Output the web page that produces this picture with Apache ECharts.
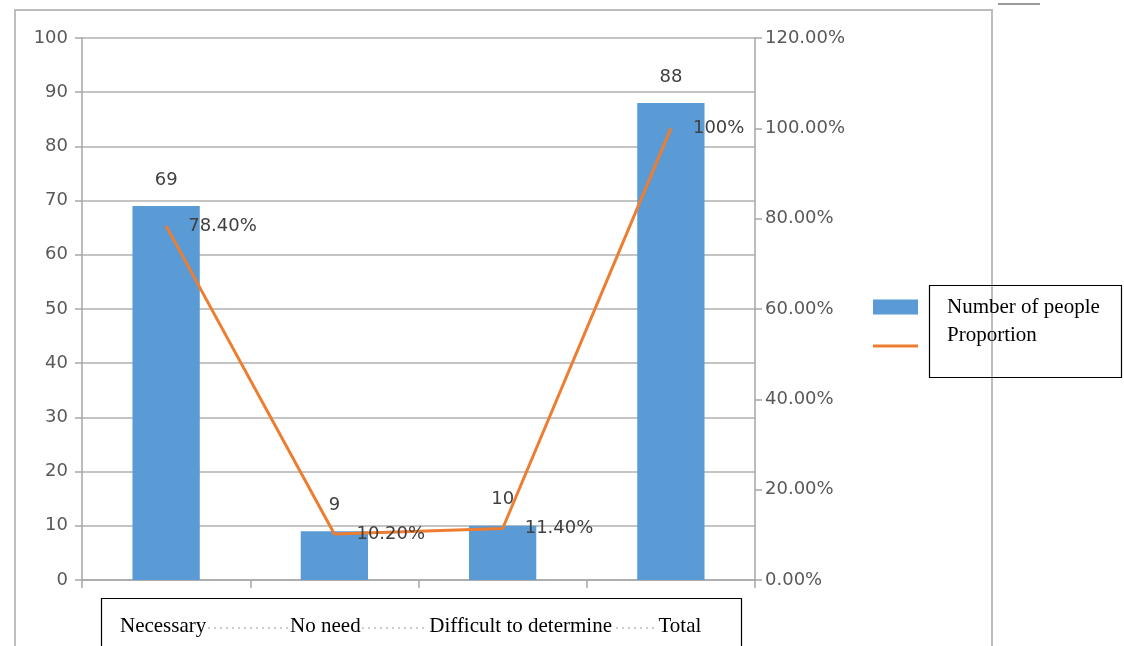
<!DOCTYPE html>
<html>
<head>
<meta charset="utf-8">
<style>
  html, body { margin: 0; padding: 0; background: #ffffff; }
  #chart { width: 1124px; height: 646px; }
</style>
<script src="https://cdn.jsdelivr.net/npm/echarts@6/dist/echarts.min.js"></script>
</head>
<body>
<div id="chart"></div>
<script>
// Survey results: head count per answer and its share of the total
const categories = ['Necessary', 'No need', 'Difficult to determine', 'Total'];
const peopleCounts = [69, 9, 10, 88];
const proportions = [78.4, 10.2, 11.4, 100];
const countTicks = { min: 0, max: 100, interval: 10 };
const shareTicks = { min: 0, max: 120, interval: 20 };

const BLUE = '#5B9BD5';
const ORANGE = '#ED7D31';
const AXIS_GREY = '#a6a6a6';
const SANS = 'DejaVu Sans';
const SERIF = 'Liberation Serif';

const chart = echarts.init(document.getElementById('chart'), null, { renderer: 'canvas' });

function shareLabel(v) {
  return v === 100 ? '100%' : v.toFixed(2) + '%';
}

const dotted = { stroke: '#9a9a9a', lineWidth: 1, lineDash: [2, 4] };

// caption words are nudged sideways inside the caption frame
const captionFont = { fontFamily: SERIF, fontSize: 21, color: '#000000' };
const captionRich = {
  c0: Object.assign({ padding: [0, 6, 0, 0] }, captionFont),
  c1: Object.assign({ padding: [0, 18, 0, 0] }, captionFont),
  c2: Object.assign({ padding: [0, 0, 0, 36] }, captionFont),
  c3: Object.assign({ padding: [0, 0, 0, 18] }, captionFont)
};

chart.setOption({
  backgroundColor: '#ffffff',
  animation: false,
  grid: { left: 82, right: 369, top: 38, bottom: 66, containLabel: false },
  legend: {
    orient: 'vertical',
    left: 873,
    top: 296,
    padding: 0,
    itemWidth: 45,
    itemHeight: 15,
    itemGap: 6,
    textStyle: { fontFamily: SERIF, fontSize: 21, lineHeight: 22, color: '#000000', padding: [0, 0, 0, 24] },
    // the second entry's text sits one line higher than its swatch
    formatter: name => (name === 'Proportion' ? name + '\n ' : name),
    data: [
      { name: 'Number of people', icon: 'rect' },
      { name: 'Proportion', icon: 'path://M0,0H45V3H0Z' }
    ]
  },
  xAxis: {
    type: 'category',
    data: categories,
    axisLine: { lineStyle: { color: AXIS_GREY, width: 1.5 } },
    axisTick: { show: true, length: 8, lineStyle: { color: AXIS_GREY, width: 1.5 } },
    axisLabel: {
      interval: 0,
      hideOverlap: false,
      margin: 36,
      fontFamily: SERIF,
      fontSize: 21,
      color: '#000000',
      formatter: (value, idx) => '{c' + idx + '|' + value + '}',
      rich: captionRich
    },
    splitLine: { show: false }
  },
  yAxis: [
    {
      type: 'value',
      min: countTicks.min,
      max: countTicks.max,
      interval: countTicks.interval,
      axisLine: { show: true, lineStyle: { color: AXIS_GREY, width: 1.5 } },
      axisTick: { show: true, length: 7, lineStyle: { color: AXIS_GREY, width: 1.5 } },
      axisLabel: { margin: 14, fontFamily: SANS, fontSize: 18, color: '#595959' },
      splitLine: { show: true, lineStyle: { color: '#c4c4c4', width: 2 } }
    },
    {
      type: 'value',
      min: shareTicks.min,
      max: shareTicks.max,
      interval: shareTicks.interval,
      position: 'right',
      axisLine: { show: true, lineStyle: { color: AXIS_GREY, width: 1.5 } },
      axisTick: { show: true, length: 7, lineStyle: { color: AXIS_GREY, width: 1.5 } },
      axisLabel: {
        margin: 10,
        fontFamily: SANS,
        fontSize: 18,
        color: '#595959',
        formatter: v => v.toFixed(2) + '%'
      },
      splitLine: { show: false }
    }
  ],
  series: [
    {
      name: 'Number of people',
      type: 'bar',
      yAxisIndex: 0,
      data: peopleCounts,
      barWidth: '40%',
      itemStyle: { color: BLUE },
      label: {
        show: true,
        position: 'top',
        distance: 17,
        fontFamily: SANS,
        fontSize: 18,
        color: '#404040'
      }
    },
    {
      name: 'Proportion',
      type: 'line',
      yAxisIndex: 1,
      data: proportions,
      symbol: 'circle',
      symbolSize: 0.1,
      showSymbol: true,
      lineStyle: { color: ORANGE, width: 3 },
      itemStyle: { color: ORANGE },
      label: {
        show: true,
        position: 'right',
        distance: 22,
        fontFamily: SANS,
        fontSize: 18,
        color: '#404040',
        formatter: p => shareLabel(p.value)
      },
      z: 3
    }
  ],
  graphic: [
    // outer chart frame
    { type: 'rect', shape: { x: 15, y: 10, width: 977, height: 660 },
      style: { fill: 'none', stroke: '#bdbdbd', lineWidth: 2 }, silent: true },
    { type: 'line', shape: { x1: 998, y1: 4, x2: 1040, y2: 4 },
      style: { stroke: '#9a9a9a', lineWidth: 2 }, silent: true },
    // legend text frame
    { type: 'rect', shape: { x: 929.5, y: 285.5, width: 192, height: 92 },
      style: { fill: 'none', stroke: '#000000', lineWidth: 1.2 }, silent: true, z: 10 },
    // category caption frame with dotted leaders
    { type: 'rect', shape: { x: 101.5, y: 598.5, width: 640, height: 60 },
      style: { fill: 'none', stroke: '#000000', lineWidth: 1.2 }, silent: true, z: 10 },
    { type: 'line', shape: { x1: 208, y1: 628, x2: 288, y2: 628 }, style: dotted, silent: true },
    { type: 'line', shape: { x1: 362, y1: 628, x2: 424, y2: 628 }, style: dotted, silent: true },
    { type: 'line', shape: { x1: 616, y1: 628, x2: 656, y2: 628 }, style: dotted, silent: true }
  ]
});
</script>
</body>
</html>
